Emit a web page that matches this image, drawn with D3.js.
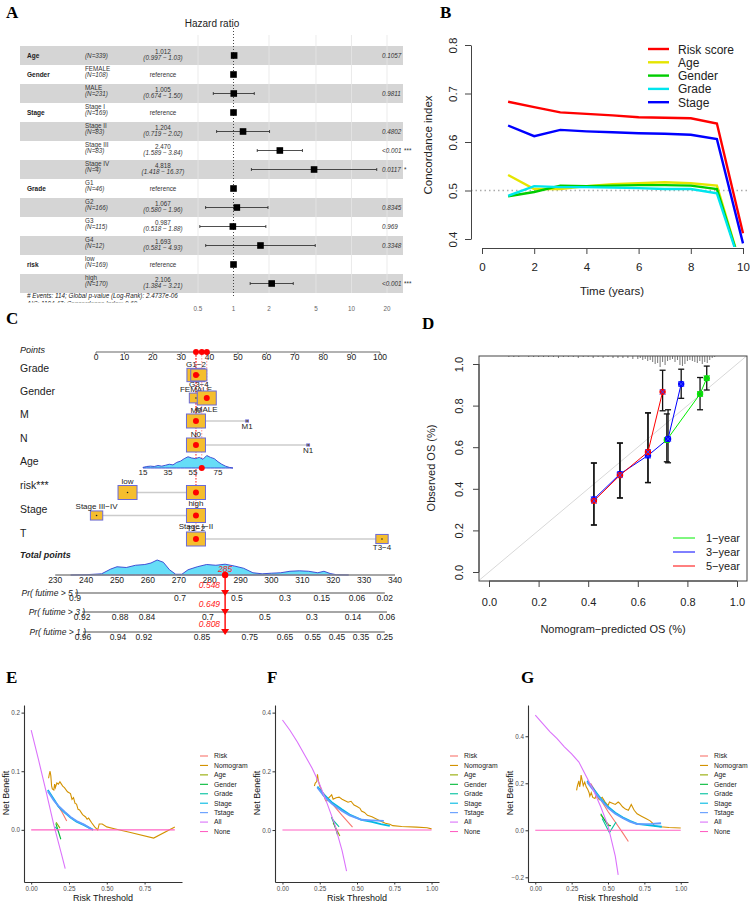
<!DOCTYPE html>
<html>
<head>
<meta charset="utf-8">
<script src="https://cdn.jsdelivr.net/npm/d3@7"></script>
<style>
  body { margin: 0; background: #fff; }
  text { font-family: "Liberation Sans", Arial, sans-serif; }
  .letter { font-family: "Liberation Serif", "Times New Roman", serif; font-weight: bold; font-size: 17px; }
</style>
</head>
<body>
<svg id="fig" width="750" height="902"></svg>
<script>
// ---------------- data: A (multivariate Cox forest) ----------------
const coxVar = ["Age", "Gender", "", "Stage", "", "", "", "Grade", "", "", "", "risk", ""];
const coxLevel = ["", "FEMALE", "MALE", "Stage I", "Stage II", "Stage III", "Stage IV", "G1", "G2", "G3", "G4", "low", "high"];
const coxN = [339, 108, 231, 169, 83, 83, 4, 46, 166, 115, 12, 169, 170];
const coxHR = [1.012, 1, 1.005, 1, 1.204, 2.470, 4.818, 1, 1.067, 0.987, 1.693, 1, 2.106];
const coxLo = [0.997, null, 0.674, null, 0.719, 1.589, 1.418, null, 0.580, 0.518, 0.581, null, 1.384];
const coxHi = [1.03, null, 1.50, null, 2.02, 3.84, 16.37, null, 1.96, 1.88, 4.93, null, 3.21];
const coxP = ["0.1057", "", "0.9811", "", "0.4802", "<0.001", "0.0117", "", "0.8345", "0.969", "0.3348", "", "<0.001"];
const coxStars = ["", "", "", "", "", "***", "*", "", "", "", "", "", "***"];
const hrTicks = [0.5, 1, 2, 5, 10, 20];

// ---------------- data: B (time-dependent C-index) ----------------
const cTimes = [1, 2, 3, 4, 5, 6, 7, 8, 9, 10];
const cRisk = [0.683, 0.672, 0.661, 0.658, 0.655, 0.651, 0.650, 0.649, 0.638, 0.412];
const cAge = [0.532, 0.503, 0.503, 0.509, 0.513, 0.515, 0.517, 0.515, 0.510, 0.33];
const cGender = [0.488, 0.497, 0.510, 0.509, 0.510, 0.511, 0.511, 0.510, 0.503, 0.33];
const cGrade = [0.489, 0.509, 0.507, 0.507, 0.506, 0.505, 0.503, 0.503, 0.494, 0.33];
const cStage = [0.634, 0.612, 0.625, 0.622, 0.620, 0.618, 0.617, 0.615, 0.606, 0.391];
const cNames = ["Risk score", "Age", "Gender", "Grade", "Stage"];
const cColors = ["#FF0000", "#E5E500", "#00CD00", "#00E5EE", "#0000FF"];

// ---------------- data: C (nomogram) ----------------
const nomoVars = ["Grade", "Gender", "M", "N", "risk***", "Stage", "T"];
const nomoLevels = [["G1−2", "G3−4"], ["FEMALE", "MALE"], ["M0", "M1"], ["N0", "N1"], ["low", "high"], ["Stage III−IV", "Stage I−II"], ["T1−2", "T3−4"]];
const nomoPoints = [[35.2, 36.2], [35.2, 39.0], [35.2, 53.2], [35.2, 74.7], [11.1, 35.2], [0.2, 35.2], [35.2, 100.7]];
const nomoFreq = [[0.95, 0.85], [0.7, 1], [1, 0.15], [1, 0.15], [1, 1], [0.65, 1], [1, 0.65]];
const nomoPick = [0, 1, 0, 0, 1, 1, 0];
const ageTicks = [15, 35, 55, 75];
const ageDensX = [15, 18, 21, 24, 27, 30, 33, 36, 39, 42, 45, 48, 51, 54, 57, 60, 63, 66, 69, 72, 75, 78, 81, 84, 87];
const ageDensY = [0.05, 0.12, 0.15, 0.12, 0.2, 0.15, 0.22, 0.3, 0.25, 0.45, 0.55, 0.75, 0.9, 0.8, 0.75, 0.85, 0.7, 1.0, 0.85, 0.75, 0.5, 0.3, 0.15, 0.05, 0];
const agePick = 62;
const totalTicks = [230, 240, 250, 260, 270, 280, 290, 300, 310, 320, 330, 340];
const tpDensX = [235, 240, 245, 248, 250, 253, 256, 259, 261, 263, 265, 267, 269, 271, 273, 276, 279, 282, 285, 288, 291, 294, 297, 300, 303, 306, 309, 312, 315, 317, 319, 321, 325];
const tpDensY = [0, 0.02, 0.08, 0.4, 0.55, 0.5, 0.65, 0.7, 0.8, 1.0, 0.85, 0.35, 0.05, 0.05, 0.35, 0.55, 0.7, 0.65, 0.72, 0.6, 0.45, 0.15, 0.08, 0.12, 0.15, 0.25, 0.28, 0.25, 0.15, 0.25, 0.1, 0.02, 0];
const totalPick = 285;
const prNames = ["Pr( futime > 5 )", "Pr( futime > 3 )", "Pr( futime > 1 )"];
const pr5Lab = ["0.9", "0.7", "0.5", "0.3", "0.15", "0.06", "0.02"];
const pr5Pos = [236.4, 270.4, 288.8, 304.4, 316.3, 327.7, 336.7];
const pr3Lab = ["0.92", "0.88", "0.84", "0.7", "0.5", "0.3", "0.14", "0.06"];
const pr3Pos = [238.7, 251, 259.7, 279.4, 297.9, 313.1, 326.4, 337.4];
const pr1Lab = ["0.96", "0.94", "0.92", "0.85", "0.75", "0.65", "0.55", "0.45", "0.35", "0.25"];
const pr1Pos = [239, 250.3, 258.7, 277.5, 293, 304.4, 313.4, 321.2, 329, 336.7];
const prPick = ["0.548", "0.649", "0.808"];

// ---------------- data: D (calibration) ----------------
const calX1 = [0.717, 0.851, 0.878], calY1 = [0.635, 0.856, 0.932];
const calLo1 = [0.53, 0.78, 0.875], calHi1 = [0.76, 0.935, 0.99];
const calX3 = [0.423, 0.528, 0.641, 0.722, 0.775], calY3 = [0.35, 0.471, 0.56, 0.64, 0.904];
const calLo3 = [0.226, 0.356, 0.43, 0.525, 0.835], calHi3 = [0.524, 0.62, 0.765, 0.78, 0.975];
const calX5 = [0.423, 0.528, 0.641, 0.70], calY5 = [0.342, 0.465, 0.577, 0.866];
const calLo5 = [0.226, 0.356, 0.43, 0.775], calHi5 = [0.524, 0.62, 0.765, 0.97];
const calNames = ["1−year", "3−year", "5−year"];
const calColors = ["#00EE00", "#0000FF", "#FF0000"];
const rugX = [0.08, 0.10, 0.12, 0.16, 0.18, 0.20, 0.22, 0.24, 0.26, 0.28, 0.30, 0.32, 0.34, 0.36, 0.38, 0.40, 0.42, 0.44, 0.46, 0.48, 0.50, 0.52, 0.54, 0.56, 0.58,
  0.60, 0.61, 0.62, 0.63, 0.64, 0.65, 0.66, 0.67, 0.68, 0.69, 0.70, 0.71, 0.72, 0.73, 0.74, 0.75, 0.76, 0.77, 0.78, 0.79, 0.80, 0.81, 0.82, 0.83, 0.84, 0.85, 0.86, 0.87, 0.88, 0.89, 0.90, 0.91];
const rugH = [1, 1, 1, 1, 1, 1, 1, 1, 1, 2, 1, 1, 1, 2, 1, 1, 2, 1, 2, 1, 2, 2, 2, 2, 3,
  3, 2, 4, 3, 5, 4, 6, 8, 7, 11, 6, 9, 5, 4, 3, 6, 4, 9, 10, 8, 5, 4, 5, 6, 7, 5, 8, 6, 7, 4, 2, 1];
const calTicks = [0, 0.2, 0.4, 0.6, 0.8, 1.0];

// ---------------- data: E/F/G (decision curves) ----------------
const dcaNames = ["Risk", "Nomogram", "Age", "Gender", "Grade", "Stage", "Tstage", "All", "None"];
const dcaColors = ["#F8766D", "#D39200", "#93AA00", "#00BA38", "#00C19F", "#00B9E3", "#619CFF", "#DB72FB", "#FF61C3"];

const eRisk = [[0.175, 0.042], [0.20, 0.032], [0.235, 0.015]];
const eNomo = [[0.115, 0.088], [0.12, 0.095], [0.125, 0.10], [0.13, 0.092], [0.135, 0.075], [0.14, 0.07], [0.15, 0.068], [0.155, 0.078], [0.16, 0.072], [0.17, 0.08], [0.18, 0.078], [0.19, 0.082], [0.20, 0.078], [0.21, 0.074], [0.22, 0.072], [0.24, 0.065], [0.26, 0.062], [0.27, 0.052], [0.28, 0.055], [0.29, 0.045], [0.30, 0.044], [0.31, 0.035], [0.32, 0.034], [0.34, 0.026], [0.36, 0.022], [0.37, 0.018], [0.38, 0.02], [0.40, 0.012], [0.42, 0.005], [0.44, 0.0], [0.45, 0.01], [0.47, 0.01], [0.50, 0.005], [0.55, 0.002], [0.65, -0.004], [0.81, -0.014], [0.95, 0.005]];
const eAge = [[0.165, 0.013], [0.19, 0.003]];
const eGender = [[0.163, 0.011], [0.196, -0.016]];
const eGrade = [[0.16, 0.005], [0.18, -0.002]];
const eStage = [[0.11, 0.068], [0.15, 0.052], [0.18, 0.04], [0.22, 0.03], [0.26, 0.021], [0.30, 0.014], [0.35, 0.008], [0.41, 0.0]];
const eTstage = [[0.11, 0.066], [0.15, 0.05], [0.18, 0.041], [0.22, 0.031], [0.26, 0.022], [0.30, 0.015], [0.35, 0.009], [0.40, 0.001]];
const eAll = [[0, 0.17], [0.05, 0.118], [0.10, 0.064], [0.15, 0.008], [0.20, -0.041], [0.225, -0.066]];
const eNone = [[0, 0], [0.95, 0]];

const fRisk = [[0.25, 0.14], [0.30, 0.11], [0.35, 0.08], [0.40, 0.05], [0.47, 0.01]];
const fNomo = [[0.214, 0.15], [0.22, 0.16], [0.23, 0.165], [0.235, 0.19], [0.24, 0.17], [0.25, 0.15], [0.26, 0.14], [0.27, 0.12], [0.28, 0.115], [0.29, 0.10], [0.30, 0.10], [0.31, 0.11], [0.32, 0.115], [0.33, 0.12], [0.34, 0.105], [0.36, 0.11], [0.38, 0.112], [0.40, 0.105], [0.42, 0.10], [0.44, 0.095], [0.46, 0.098], [0.48, 0.085], [0.50, 0.08], [0.52, 0.074], [0.53, 0.065], [0.55, 0.06], [0.57, 0.05], [0.60, 0.045], [0.63, 0.038], [0.66, 0.03], [0.69, 0.023], [0.72, 0.02], [0.74, 0.015], [0.80, 0.012], [0.90, 0.01], [0.97, 0.008], [1.0, 0.004]];
const fAge = [[0.34, 0.025], [0.385, -0.02]];
const fGender = [[0.33, 0.045], [0.36, 0.0], [0.37, -0.017]];
const fGrade = [[0.33, 0.04], [0.38, 0.011]];
const fStage = [[0.234, 0.148], [0.28, 0.12], [0.33, 0.095], [0.40, 0.07], [0.45, 0.053], [0.53, 0.035], [0.60, 0.028], [0.66, 0.02], [0.72, 0.014]];
const fTstage = [[0.234, 0.145], [0.28, 0.115], [0.33, 0.09], [0.40, 0.065], [0.45, 0.05], [0.53, 0.035], [0.60, 0.033], [0.68, 0.031]];
const fAll = [[0, 0.375], [0.05, 0.34], [0.10, 0.30], [0.15, 0.255], [0.20, 0.21], [0.25, 0.155], [0.30, 0.09], [0.35, 0.02], [0.40, -0.07], [0.43, -0.14]];
const fNone = [[0, 0], [1, 0]];

const gRisk = [[0.38, 0.20], [0.45, 0.13], [0.50, 0.08], [0.55, 0.035], [0.60, -0.01], [0.64, -0.048]];
const gNomo = [[0.284, 0.17], [0.29, 0.19], [0.30, 0.21], [0.305, 0.185], [0.31, 0.20], [0.315, 0.235], [0.32, 0.22], [0.33, 0.19], [0.34, 0.205], [0.35, 0.185], [0.36, 0.175], [0.37, 0.16], [0.375, 0.145], [0.385, 0.16], [0.395, 0.14], [0.41, 0.135], [0.42, 0.15], [0.44, 0.13], [0.46, 0.14], [0.48, 0.12], [0.50, 0.105], [0.51, 0.12], [0.53, 0.115], [0.55, 0.11], [0.57, 0.12], [0.58, 0.115], [0.60, 0.10], [0.62, 0.09], [0.64, 0.085], [0.66, 0.11], [0.68, 0.085], [0.70, 0.07], [0.73, 0.06], [0.76, 0.05], [0.79, 0.04], [0.81, 0.028], [0.82, 0.018], [0.86, 0.015], [0.92, 0.012], [1.0, 0.01]];
const gAge = [[0.45, 0.065], [0.51, 0.02]];
const gGender = [[0.45, 0.07], [0.50, 0.02], [0.52, 0.02]];
const gGrade = [[0.46, 0.05], [0.51, -0.01], [0.555, 0.035]];
const gStage = [[0.357, 0.211], [0.40, 0.175], [0.45, 0.135], [0.50, 0.10], [0.55, 0.075], [0.60, 0.055], [0.65, 0.04], [0.70, 0.027], [0.80, 0.02], [0.87, 0.015]];
const gTstage = [[0.357, 0.205], [0.40, 0.17], [0.45, 0.13], [0.50, 0.095], [0.55, 0.07], [0.60, 0.052], [0.65, 0.037], [0.70, 0.026], [0.80, 0.027], [0.865, 0.03]];
const gAll = [[0, 0.49], [0.05, 0.455], [0.10, 0.42], [0.15, 0.39], [0.20, 0.355], [0.25, 0.325], [0.30, 0.29], [0.35, 0.23], [0.40, 0.17], [0.45, 0.10], [0.50, 0.02], [0.55, -0.11], [0.57, -0.19]];
const gNone = [[0, 0], [1, 0]];

// ---------------- helpers ----------------
const svg = d3.select("#fig");
svg.append("rect").attr("width", 750).attr("height", 902).attr("fill", "#fff");

function txt(g, x, y, s, o = {}) {
  const t = g.append("text").attr("x", x).attr("y", y).text(s)
    .attr("font-size", o.size || 8).attr("fill", o.fill || "#000");
  if (o.anchor) t.attr("text-anchor", o.anchor);
  if (o.italic) t.attr("font-style", "italic");
  if (o.bold) t.attr("font-weight", "bold");
  if (o.rot) t.attr("transform", `rotate(${o.rot},${x},${y})`);
  return t;
}

// panel letters
[["A", 6, 18], ["B", 440, 18], ["C", 6, 324], ["D", 422, 329], ["E", 6, 683], ["F", 267, 683], ["G", 521, 683]]
  .forEach(([s, x, y]) => svg.append("text").attr("class", "letter").attr("x", x).attr("y", y).text(s));

// ================= A: forest plot =================
const gA = svg.append("g");
const hrX = d3.scaleLog().domain([0.5, 20]).range([198, 387]);
const rowTop = 46, rowH = 19, nRows = coxLevel.length;

coxLevel.forEach((d, i) => {
  if (i % 2 === 0) {
    gA.append("rect").attr("x", 20).attr("y", rowTop + i * rowH)
      .attr("width", 383).attr("height", rowH).attr("fill", "#D5D5D5");
  }
});
hrTicks.filter((t) => t !== 1).forEach((t) => {
  gA.append("line").attr("x1", hrX(t)).attr("x2", hrX(t))
    .attr("y1", 35).attr("y2", rowTop + nRows * rowH)
    .attr("stroke", "#E6E6E6").attr("stroke-width", 0.8);
});
gA.append("line").attr("x1", hrX(1)).attr("x2", hrX(1)).attr("y1", 28).attr("y2", 297)
  .attr("stroke", "#333").attr("stroke-width", 0.9).attr("stroke-dasharray", "1,2");

txt(gA, 212, 27, "Hazard ratio", { size: 10, anchor: "middle", fill: "#222" });

coxLevel.forEach((lvl, i) => {
  const cy = rowTop + i * rowH + rowH / 2;
  if (coxVar[i]) txt(gA, 27, cy + 2.5, coxVar[i], { size: 6.5, bold: true, fill: "#222" });
  if (lvl) {
    txt(gA, 85, cy - 3.5, lvl, { size: 6.3, fill: "#333" });
    txt(gA, 85, cy + 2.5, `(N=${coxN[i]})`, { size: 6.3, italic: true, fill: "#333" });
  } else {
    txt(gA, 85, cy + 2.5, `(N=${coxN[i]})`, { size: 6.3, italic: true, fill: "#333" });
  }
  if (coxLo[i] == null) {
    txt(gA, 163, cy + 2.5, "reference", { size: 6.3, anchor: "middle", fill: "#333" });
  } else {
    txt(gA, 163, cy - 2, coxHR[i].toFixed(3), { size: 6.3, anchor: "middle", fill: "#333" });
    txt(gA, 163, cy + 4.5, `(${coxLo[i].toFixed(3)} − ${coxHi[i].toFixed(2)})`, { size: 6.3, anchor: "middle", italic: true, fill: "#333" });
    const x1 = hrX(coxLo[i]), x2 = hrX(coxHi[i]);
    gA.append("line").attr("x1", x1).attr("x2", x2).attr("y1", cy).attr("y2", cy).attr("stroke", "#222").attr("stroke-width", 0.8);
    [x1, x2].forEach((x) => gA.append("line").attr("x1", x).attr("x2", x).attr("y1", cy - 1.5).attr("y2", cy + 1.5).attr("stroke", "#222").attr("stroke-width", 0.8));
  }
  gA.append("rect").attr("x", hrX(coxHR[i]) - 3.3).attr("y", cy - 3.3).attr("width", 6.6).attr("height", 6.6).attr("fill", "#000");
  if (coxP[i]) {
    txt(gA, 382, cy + 2.5, coxP[i], { size: 6.3, italic: true, fill: "#333" });
    if (coxStars[i]) txt(gA, 404, cy + 2.5, coxStars[i], { size: 6.3, fill: "#333" });
  }
});
hrTicks.forEach((t) => txt(gA, hrX(t), 311, String(t), { size: 6.3, anchor: "middle", fill: "#666" }));
txt(gA, 27, 298, "# Events: 114; Global p-value (Log-Rank): 2.4737e-06", { size: 6.3, italic: true, fill: "#222" });
svg.append("defs").append("clipPath").attr("id", "clipFoot").append("rect").attr("x", 0).attr("y", 299).attr("width", 400).attr("height", 3.5);
txt(gA.append("g").attr("clip-path", "url(#clipFoot)"), 27, 306, "AIC: 1104.47; Concordance Index: 0.69", { size: 6.3, italic: true, fill: "#222" });

// ================= B: C-index over time =================
const gB = svg.append("g");
const tX = d3.scaleLinear().domain([0, 10]).range([482, 743]);
const ciY = d3.scaleLinear().domain([0.4, 0.8]).range([239, 45]);
svg.select("defs").append("clipPath").attr("id", "clipB").append("rect").attr("x", 471).attr("y", 37).attr("width", 282).attr("height", 210);

gB.append("line").attr("x1", 471).attr("x2", 752).attr("y1", ciY(0.5)).attr("y2", ciY(0.5))
  .attr("stroke", "#AAAAAA").attr("stroke-width", 1.5).attr("stroke-dasharray", "1.5,3");

const cSeries = [cRisk, cAge, cGender, cGrade, cStage];
const cLine = d3.line().x((d, i) => tX(cTimes[i])).y((d) => ciY(d));
const gBl = gB.append("g").attr("clip-path", "url(#clipB)");
cSeries.forEach((s, k) => {
  gBl.append("path").attr("d", cLine(s)).attr("fill", "none").attr("stroke", cColors[k]).attr("stroke-width", 2.4);
});

const bx = gB.append("g").attr("transform", "translate(0,248)")
  .call(d3.axisBottom(tX).tickValues([0, 2, 4, 6, 8, 10]).tickSize(6).tickSizeOuter(0));
bx.selectAll("text").attr("y", 23).attr("dy", 0).attr("font-size", 11.5).attr("fill", "#222");
const by = gB.append("g").attr("transform", "translate(471,0)")
  .call(d3.axisLeft(ciY).tickValues([0.4, 0.5, 0.6, 0.7, 0.8]).tickFormat(d3.format(".1f")).tickSize(6).tickSizeOuter(0));
by.selectAll("text").attr("transform", "rotate(-90)").attr("x", 0).attr("y", -14).attr("dy", 0)
  .attr("text-anchor", "middle").attr("font-size", 11.5).attr("fill", "#222");
[bx, by].forEach((a) => { a.selectAll("path,line").attr("stroke", "#444"); a.attr("font-family", null); });

txt(gB, 612, 295, "Time (years)", { size: 11.5, anchor: "middle", fill: "#222" });
txt(gB, 432, 145, "Concordance index", { size: 11.5, anchor: "middle", fill: "#222", rot: -90 });

cNames.forEach((n, k) => {
  const y = 49 + k * 13.3;
  gB.append("line").attr("x1", 648).attr("x2", 669).attr("y1", y).attr("y2", y).attr("stroke", cColors[k]).attr("stroke-width", 2.4);
  txt(gB, 678, y + 4.5, n, { size: 12, fill: "#222" });
});

// ================= C: nomogram =================
const gC = svg.append("g");
const ptsX = d3.scaleLinear().domain([0, 100]).range([96, 380]);
const tpX = d3.scaleLinear().domain([250, 340]).range([117, 395]);
const ageX = d3.scaleLinear().domain([15, 75]).range([143, 218]);
const rowYs = [375, 398, 421, 445, 492.5, 515.5, 539];
const labYs = [372, 395, 418, 442, 489, 513, 537];

// Points axis
txt(gC, 20, 353, "Points", { size: 9, italic: true, fill: "#222" });
gC.append("line").attr("x1", ptsX(0)).attr("x2", ptsX(100)).attr("y1", 352).attr("y2", 352).attr("stroke", "#999").attr("stroke-width", 1.5);
d3.range(0, 101, 10).forEach((p) => {
  gC.append("line").attr("x1", ptsX(p)).attr("x2", ptsX(p)).attr("y1", 352).attr("y2", 354).attr("stroke", "#777");
  txt(gC, ptsX(p), 360, String(p), { size: 8.5, anchor: "middle", fill: "#222" });
});

// red dotted guides from selections to points axis
const pickPts = nomoPick.map((k, r) => nomoPoints[r][k]);
const guides = [];
pickPts.forEach((p, r) => guides.push([ptsX(p), rowYs[r]]));
guides.push([ageX(agePick), 468]);
guides.forEach(([x, y]) => gC.append("line").attr("x1", x).attr("x2", x).attr("y1", 352).attr("y2", y)
  .attr("stroke", "#FF6666").attr("stroke-width", 0.7).attr("stroke-dasharray", "1.5,1.5"));

nomoVars.forEach((v, r) => {
  const cy = rowYs[r];
  txt(gC, 20, labYs[r], v, { size: 10.5, fill: "#222" });
  const xs = nomoPoints[r].map(ptsX);
  gC.append("line").attr("x1", d3.min(xs)).attr("x2", d3.max(xs)).attr("y1", cy).attr("y2", cy).attr("stroke", "#CCCCCC").attr("stroke-width", 1.5);
  nomoLevels[r].forEach((lv, k) => {
    const f = nomoFreq[r][k], w = 19 * f, h = 14 * f, x = ptsX(nomoPoints[r][k]);
    gC.append("rect").attr("x", x - w / 2).attr("y", cy - h / 2).attr("width", w).attr("height", h)
      .attr("fill", "#F5BE2E").attr("stroke", "#6A6AD8").attr("stroke-width", 1);
    if (k !== nomoPick[r]) gC.append("circle").attr("cx", x).attr("cy", cy).attr("r", 0.8).attr("fill", "#222");
    const ly = k === 0 ? cy - h / 2 - 1.5 : cy + h / 2 + 6.5;
    txt(gC, x, ly, lv, { size: 8, anchor: "middle", fill: "#222" });
  });
  const px = ptsX(pickPts[r]);
  gC.append("circle").attr("cx", px).attr("cy", cy).attr("r", 3).attr("fill", "#FF0000");
});

// Age density row
txt(gC, 20, 465, "Age", { size: 10.5, fill: "#222" });
const ageArea = d3.area().x((d, i) => ageX(ageDensX[i])).y0(468).y1((d) => 468 - d * 12.5);
gC.append("path").attr("d", ageArea(ageDensY)).attr("fill", "#66DDF7").attr("stroke", "#3340D0").attr("stroke-width", 0.9);
ageTicks.forEach((a) => txt(gC, ageX(a), 475, String(a), { size: 8, anchor: "middle", fill: "#222" }));
gC.append("circle").attr("cx", ageX(agePick)).attr("cy", 468).attr("r", 3).attr("fill", "#FF0000");

// points-axis red dots
[...new Set(guides.map((g) => g[0].toFixed(1)))].forEach((x) =>
  gC.append("circle").attr("cx", +x).attr("cy", 352).attr("r", 3).attr("fill", "#FF0000"));

// Total points
txt(gC, 20, 558, "Total points", { size: 9, italic: true, bold: true, fill: "#222" });
const tpArea = d3.area().x((d, i) => tpX(tpDensX[i])).y0(575).y1((d) => 575 - d * 15);
gC.append("path").attr("d", tpArea(tpDensY)).attr("fill", "#66DDF7").attr("stroke", "#3340D0").attr("stroke-width", 0.9);
gC.append("line").attr("x1", tpX(230)).attr("x2", tpX(340)).attr("y1", 575).attr("y2", 575).attr("stroke", "#888").attr("stroke-width", 1.5);
totalTicks.forEach((t) => txt(gC, tpX(t), 583, String(t), { size: 8.5, anchor: "middle", fill: "#222" }));

// Probability axes
const prLabs = [pr5Lab, pr3Lab, pr1Lab], prPos = [pr5Pos, pr3Pos, pr1Pos], prY = [593, 612, 632];
prLabs.forEach((labs, j) => {
  const y = prY[j], pos = prPos[j];
  gC.append("line").attr("x1", tpX(pos[0])).attr("x2", tpX(pos[pos.length - 1])).attr("y1", y).attr("y2", y).attr("stroke", "#888").attr("stroke-width", 1.5);
  labs.forEach((l, i) => txt(gC, tpX(pos[i]), y + 7.5, l, { size: 8.5, anchor: "middle", fill: "#222" }));
  txt(gC, tpX(pos[0]) + 3, y + 3, prNames[j], { size: 8.5, anchor: "end", italic: true, fill: "#222" });
});

// selected total and probabilities
const sx = tpX(totalPick);
gC.append("line").attr("x1", sx).attr("x2", sx).attr("y1", 575).attr("y2", 632).attr("stroke", "#FF0000").attr("stroke-width", 1.4);
gC.append("circle").attr("cx", sx).attr("cy", 575).attr("r", 3.2).attr("fill", "#FF0000");
txt(gC, sx, 572, String(totalPick), { size: 8.5, anchor: "middle", italic: true, fill: "#FF2222" });
prY.forEach((y, j) => {
  gC.append("path").attr("d", `M${sx - 4},${y - 3}L${sx + 4},${y - 3}L${sx},${y + 3}Z`).attr("fill", "#FF0000");
  txt(gC, sx - 5, y - 5, prPick[j], { size: 8.5, anchor: "end", italic: true, fill: "#FF2222" });
});

// ================= D: calibration =================
const gD = svg.append("g");
const predX = d3.scaleLinear().domain([0, 1]).range([489, 737]);
const obsY = d3.scaleLinear().domain([0, 1]).range([572, 364]);
svg.select("defs").append("clipPath").attr("id", "clipD").append("rect").attr("x", 479).attr("y", 356).attr("width", 268).attr("height", 225);
gD.append("line").attr("clip-path", "url(#clipD)").attr("x1", predX(-0.05)).attr("y1", obsY(-0.05)).attr("x2", predX(1.1)).attr("y2", obsY(1.1))
  .attr("stroke", "#D8D8D8").attr("stroke-width", 1);
rugX.forEach((x, i) => gD.append("line").attr("x1", predX(x)).attr("x2", predX(x)).attr("y1", 356).attr("y2", 356 + rugH[i])
  .attr("stroke", "#555").attr("stroke-width", 0.8));

const calSets = [[calX1, calY1, calLo1, calHi1], [calX3, calY3, calLo3, calHi3], [calX5, calY5, calLo5, calHi5]];
calSets.forEach(([xs, ys, lo, hi]) => {
  xs.forEach((x, i) => {
    const px = predX(x);
    gD.append("line").attr("x1", px).attr("x2", px).attr("y1", obsY(lo[i])).attr("y2", obsY(hi[i])).attr("stroke", "#111").attr("stroke-width", 1.3);
    [lo[i], hi[i]].forEach((v) => gD.append("line").attr("x1", px - 3).attr("x2", px + 3).attr("y1", obsY(v)).attr("y2", obsY(v)).attr("stroke", "#111").attr("stroke-width", 1.3));
  });
});
const calLine = d3.line().x((d) => predX(d[0])).y((d) => obsY(d[1]));
calSets.forEach(([xs, ys], k) => {
  gD.append("path").attr("d", calLine(xs.map((x, i) => [x, ys[i]]))).attr("fill", "none").attr("stroke", calColors[k]).attr("stroke-width", 1);
});
calSets.forEach(([xs, ys], k) => {
  xs.forEach((x, i) => {
    const px = predX(x), py = obsY(ys[i]);
    gD.append("circle").attr("cx", px).attr("cy", py).attr("r", 3.2).attr("fill", calColors[k]);
    const xc = k === 0 ? "#22AA22" : "#3344FF";
    gD.append("path").attr("d", `M${px - 2.8},${py - 2.8}L${px + 2.8},${py + 2.8}M${px - 2.8},${py + 2.8}L${px + 2.8},${py - 2.8}`)
      .attr("stroke", xc).attr("stroke-width", 1);
  });
});
gD.append("rect").attr("x", 479).attr("y", 356).attr("width", 268).attr("height", 225).attr("fill", "none").attr("stroke", "#444").attr("stroke-width", 1);

const dx = gD.append("g").attr("transform", "translate(0,581)")
  .call(d3.axisBottom(predX).tickValues(calTicks).tickFormat(d3.format(".1f")).tickSize(6).tickSizeOuter(0));
dx.selectAll("text").attr("y", 25).attr("dy", 0).attr("font-size", 11).attr("fill", "#222");
const dy = gD.append("g").attr("transform", "translate(479,0)")
  .call(d3.axisLeft(obsY).tickValues(calTicks).tickFormat(d3.format(".1f")).tickSize(6).tickSizeOuter(0));
dy.selectAll("text").attr("transform", "rotate(-90)").attr("x", 0).attr("y", -16).attr("dy", 0)
  .attr("text-anchor", "middle").attr("font-size", 11).attr("fill", "#222");
[dx, dy].forEach((a) => { a.select(".domain").remove(); a.selectAll("line").attr("stroke", "#444"); a.attr("font-family", null); });
gD.append("line").attr("x1", predX(0)).attr("x2", predX(1)).attr("y1", 581).attr("y2", 581).attr("stroke", "#444");
gD.append("line").attr("x1", 479).attr("x2", 479).attr("y1", obsY(0)).attr("y2", obsY(1)).attr("stroke", "#444");

txt(gD, 613, 633, "Nomogram−predicted OS (%)", { size: 11, anchor: "middle", fill: "#222" });
txt(gD, 435, 468, "Observed OS (%)", { size: 11, anchor: "middle", fill: "#222", rot: -90 });
calNames.forEach((n, k) => {
  const y = 538 + k * 14;
  gD.append("line").attr("x1", 673).attr("x2", 695).attr("y1", y).attr("y2", y).attr("stroke", calColors[k]).attr("stroke-width", 1);
  txt(gD, 706, y + 4, n, { size: 11, fill: "#222" });
});

// ================= E/F/G: decision curves =================
function drawDCA(cfg) {
  const g = svg.append("g");
  const x = d3.scaleLinear().domain(cfg.xDom).range(cfg.xRange);
  const y = d3.scaleLinear().domain(cfg.yDom).range([882, 705]);
  const line = d3.line().x((d) => x(d[0])).y((d) => y(d[1]));
  cfg.series.forEach((s, i) => {
    g.append("path").attr("d", line(s)).attr("fill", "none").attr("stroke", dcaColors[i])
      .attr("stroke-width", i === 5 || i === 6 ? 1.8 : 1.1);
  });
  const ax = g.append("g").attr("transform", "translate(0,882)")
    .call(d3.axisBottom(x).tickValues(cfg.xTicks).tickFormat(d3.format(".2f")).tickSize(2.5).tickPadding(2).tickSizeOuter(0));
  const ay = g.append("g").attr("transform", `translate(${cfg.xRange[0]},0)`)
    .call(d3.axisLeft(y).tickValues(cfg.yTicks).tickFormat(d3.format(".1f")).tickSize(2.5).tickPadding(1.5).tickSizeOuter(0));
  [ax, ay].forEach((a) => {
    a.attr("font-family", null);
    a.select(".domain").attr("stroke", "#333").attr("stroke-width", 1.1);
    a.selectAll(".tick line").attr("stroke", "#333");
    a.selectAll("text").attr("font-size", 6.3).attr("fill", "#4D4D4D");
  });
  const xm = (cfg.xRange[0] + cfg.xRange[1]) / 2;
  txt(g, xm, 901, "Risk Threshold", { size: 9, anchor: "middle", fill: "#111" });
  txt(g, cfg.xRange[0] - 15.5, 793, "Net Benefit", { size: 9, anchor: "middle", fill: "#111", rot: -90 });
  dcaNames.forEach((n, i) => {
    const ly = 756 + i * 9.44;
    g.append("line").attr("x1", cfg.legX).attr("x2", cfg.legX + 8).attr("y1", ly).attr("y2", ly).attr("stroke", dcaColors[i]).attr("stroke-width", 1.1);
    txt(g, cfg.legX + 14, ly + 2.4, n, { size: 6.8, fill: "#222" });
  });
}

drawDCA({
  series: [eRisk, eNomo, eAge, eGender, eGrade, eStage, eTstage, eAll, eNone],
  xDom: [-0.0475, 0.9975], xRange: [24, 182], yDom: [-0.089, 0.213],
  xTicks: [0, 0.25, 0.5, 0.75], yTicks: [0, 0.1, 0.2], legX: 200,
});
drawDCA({
  series: [fRisk, fNomo, fAge, fGender, fGrade, fStage, fTstage, fAll, fNone],
  xDom: [-0.05, 1.05], xRange: [275, 439], yDom: [-0.177, 0.426],
  xTicks: [0, 0.25, 0.5, 0.75, 1], yTicks: [0, 0.2, 0.4], legX: 450,
});
drawDCA({
  series: [gRisk, gNomo, gAge, gGender, gGrade, gStage, gTstage, gAll, gNone],
  xDom: [-0.05, 1.05], xRange: [528, 688], yDom: [-0.22, 0.533],
  xTicks: [0, 0.25, 0.5, 0.75, 1], yTicks: [-0.2, 0, 0.2, 0.4], legX: 700,
});
</script>
</body>
</html>
